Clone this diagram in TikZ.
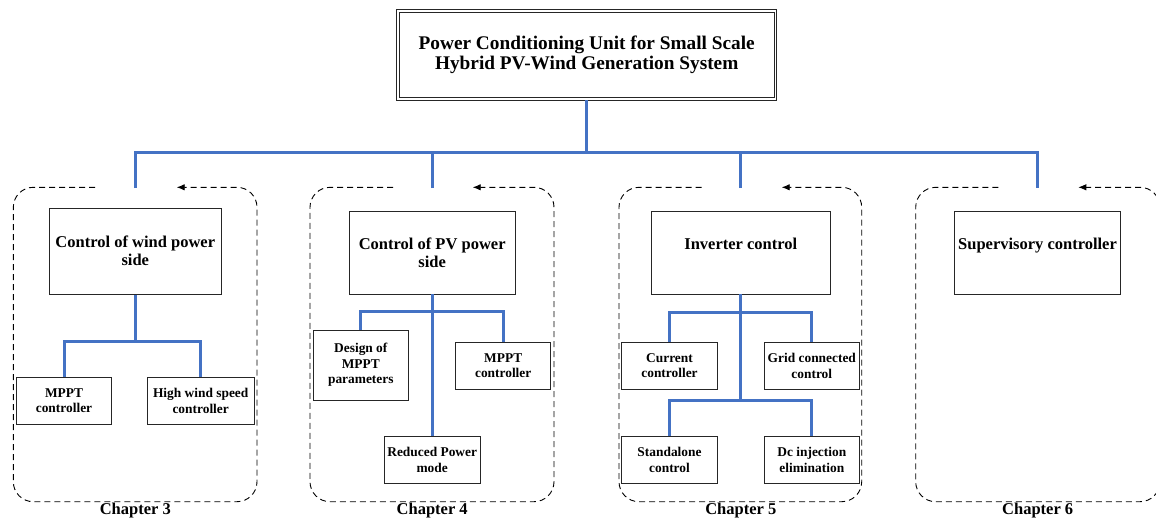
\documentclass[tikz,border=0pt]{standalone}
\usepackage{fontspec}
\setmainfont{Liberation Serif}
\usetikzlibrary{arrows.meta}
\definecolor{lineblue}{HTML}{4472C4}
\tikzset{
  box/.style={draw=black!85, line width=0.8pt, inner sep=0pt, align=center,
    font=\bfseries\fontsize{13.4}{15.6}\selectfont},
  bigbox/.style={box, font=\bfseries\fontsize{16.5}{18}\selectfont},
  titlebox/.style={draw=black!85, line width=0.8pt,
    inner sep=0pt, align=center, minimum width=380pt, minimum height=90.7pt,
    font=\bfseries\fontsize{19.3}{20}\selectfont},
  innerframe/.style={draw=black!85, line width=0.8pt},
  link/.style={draw=lineblue, line width=3pt},
  chapbox/.style={draw=black, line width=0.9pt, dash pattern=on 6pt off 4pt,
    rounded corners=20pt, -{Latex[length=8pt,width=6.5pt]}},
  chaplabel/.style={inner sep=0pt, font=\bfseries\fontsize{16.5}{18}\selectfont},
}
\newcommand\chapframe[4]{%
  \draw[chapbox] (#3,187.3) -| (#1,501.7) -| (#2,187.3) -- (#4,187.3);}
\begin{document}
\begin{tikzpicture}[x=1pt,y=-1pt]
\useasboundingbox (0,0) rectangle (1156,520);
\clip (0,0) rectangle (1156,520);

% title
\node[titlebox] (title) at (586.7,54.7) {Power Conditioning Unit for Small Scale\\Hybrid PV-Wind Generation System};
\draw[innerframe] ([shift={(3pt,3pt)}]title.south west) rectangle ([shift={(-3pt,-3pt)}]title.north east);

% group top coordinates
\coordinate (hb) at (586.7,152.3);
\coordinate (g1) at (135.3,188);
\coordinate (g2) at (432.2,188);
\coordinate (g3) at (740.8,188);
\coordinate (g4) at (1037.7,188);

\draw[link] (title.south) -- (title.south |- hb);
\draw[link] (g1) -- (g1 |- hb) -- (g4 |- hb) -- (g4);
\draw[link] (g2) -- (g2 |- hb);
\draw[link] (g3) -- (g3 |- hb);

% dashed chapter frames
\chapframe{13.3}{257}{95}{176.7}
\chapframe{310}{554}{393}{472.7}
\chapframe{619}{861.7}{701.7}{781.7}
\chapframe{915.7}{1160}{998.3}{1078.3}

% chapter 3
\node[bigbox, minimum width=172pt, minimum height=86pt] (wind) at (135.3,251.2) {Control of wind power\\side};
\node[box, minimum width=94.6pt, minimum height=47pt] (mppt1) at (64,400.8) {MPPT\\controller};
\node[box, minimum width=106.7pt, minimum height=47pt] (hw) at (200.7,400.8) {High wind speed\\controller};
\coordinate (b1) at (135.3,341.7);
\draw[link] (wind.south) -- (b1);
\draw[link] (mppt1.north) |- (b1) -| (hw.north);

% chapter 4
\node[bigbox, minimum width=165.7pt, minimum height=83pt] (pv) at (432.2,252.5) {Control of PV power\\side};
\node[box, minimum width=95pt, minimum height=70pt] (design) at (360.8,365) {Design of\\MPPT\\parameters};
\node[box, minimum width=95pt, minimum height=46.7pt] (mppt2) at (503.2,365.7) {MPPT\\controller};
\node[box, minimum width=95.7pt, minimum height=46.7pt] (reduced) at (432.2,460) {Reduced Power\\mode};
\coordinate (b2) at (432.2,311);
\draw[link] (pv.south) -- (reduced.north);
\draw[link] (design.north) |- (b2) -| (mppt2.north);

% chapter 5
\node[bigbox, minimum width=178.3pt, minimum height=83pt] (inv) at (740.8,252.5) {Inverter control\\\mbox{}};
\node[box, minimum width=95.7pt, minimum height=46.7pt] (cur) at (669.5,365.7) {Current\\controller};
\node[box, minimum width=95pt, minimum height=46.7pt] (grid) at (811.8,365.7) {Grid connected\\control};
\node[box, minimum width=95.7pt, minimum height=46.7pt] (stand) at (669.5,460) {Standalone\\control};
\node[box, minimum width=95pt, minimum height=46.7pt] (dc) at (811.8,460) {Dc injection\\elimination};
\coordinate (b3a) at (740.8,312.3);
\coordinate (b3b) at (740.8,400);
\draw[link] (inv.south) -- (b3b);
\draw[link] (cur.north) |- (b3a) -| (grid.north);
\draw[link] (stand.north) |- (b3b) -| (dc.north);

% chapter 6
\node[bigbox, minimum width=166.4pt, minimum height=83pt] (sup) at (1037.5,252.5) {Supervisory controller\\\mbox{}};

% chapter labels
\node[chaplabel] (ch3) at (135.3,511) {Chapter 3};
\node[chaplabel] (ch4) at (432.2,511) {Chapter 4};
\node[chaplabel] (ch5) at (740.8,511) {Chapter 5};
\node[chaplabel] (ch6) at (1037.7,511) {Chapter 6};
\end{tikzpicture}
\end{document}
